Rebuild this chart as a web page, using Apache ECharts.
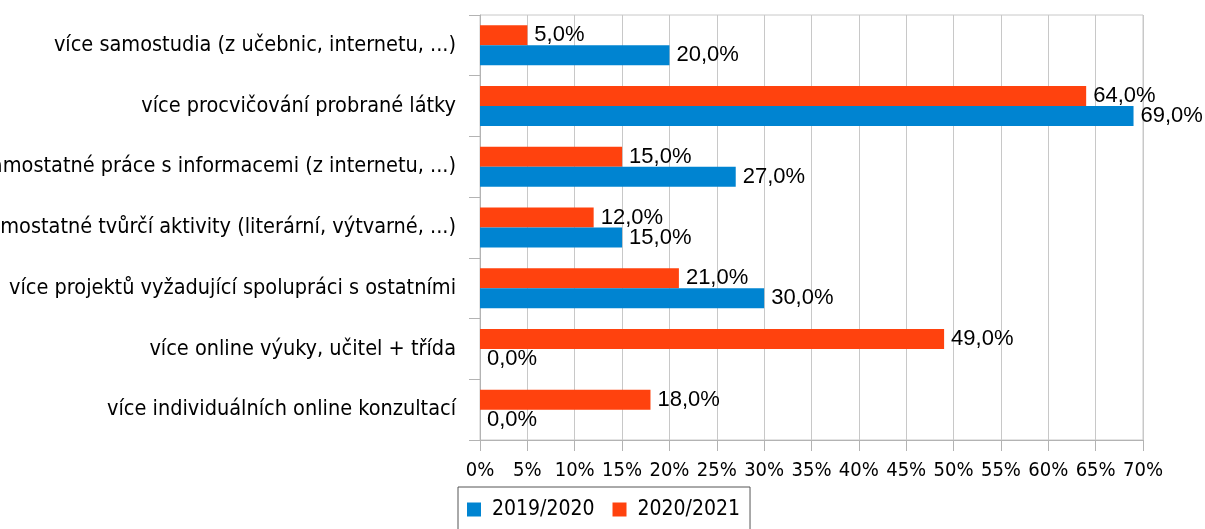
<!DOCTYPE html>
<html>
<head>
<meta charset="utf-8">
<script src="https://cdn.jsdelivr.net/npm/echarts@6/dist/echarts.min.js"></script>
<style>
  html, body { margin: 0; padding: 0; background: #fff; }
  #chart { width: 1205px; height: 529px; }
</style>
</head>
<body>
<div id="chart"></div>
<script>
const categories = [
  'více samostudia (z učebnic, internetu, ...)',
  'více procvičování probrané látky',
  'více samostatné práce s informacemi (z internetu, ...)',
  'více samostatné tvůrčí aktivity (literární, výtvarné, ...)',
  'více projektů vyžadující spolupráci s ostatními',
  'více online výuky, učitel + třída',
  'více individuálních online konzultací'
]
const values2019 = [20, 69, 27, 15, 30, 0, 0]
const values2021 = [5, 64, 15, 12, 21, 49, 18]
const seriesNames = ['2019/2020', '2020/2021']

const axisFont = '"DejaVu Sans Condensed", sans-serif'
const valueFont = '"Liberation Sans", Arial, sans-serif'

const chart = echarts.init(document.getElementById('chart'))

function pct(p) {
  return p.value.toFixed(1).replace('.', ',') + '%'
}

const valueLabel = {
  show: true,
  position: 'right',
  distance: 7,
  formatter: pct,
  color: '#000',
  fontFamily: valueFont,
  fontSize: 22
}

chart.setOption({
  animation: false,
  grid: {
    left: 480, right: 62, top: 15, bottom: 89,
    outerBoundsMode: 'none',
    containLabel: false,
    show: true, borderColor: '#c8c8c8', borderWidth: 1
  },
  legend: {
    data: seriesNames,
    left: 458, top: 487,
    orient: 'horizontal',
    itemWidth: 14, itemHeight: 14,
    itemGap: 18,
    padding: [12, 10, 20, 9],
    borderColor: '#555', borderWidth: 1,
    icon: 'rect',
    textStyle: { fontFamily: axisFont, fontSize: 21, color: '#000', padding: [0, 0, 0, 6] }
  },
  xAxis: {
    type: 'value',
    min: 0, max: 70, interval: 5,
    axisLine: { show: true, lineStyle: { color: '#b3b3b3' } },
    axisTick: { show: true, length: 11, lineStyle: { color: '#b3b3b3' } },
    splitLine: { show: true, lineStyle: { color: '#c8c8c8' } },
    axisLabel: {
      formatter: '{value}%', color: '#000', fontFamily: axisFont, fontSize: 20, margin: 21,
      hideOverlap: false, showMaxLabel: true, showMinLabel: true
    }
  },
  yAxis: {
    type: 'category',
    data: categories,
    inverse: true,
    axisLine: { show: true, lineStyle: { color: '#b3b3b3' } },
    axisTick: { show: true, length: 11, lineStyle: { color: '#b3b3b3' } },
    splitLine: { show: false },
    axisLabel: { color: '#000', fontFamily: axisFont, fontSize: 21.5, margin: 24 }
  },
  series: [
    {
      name: seriesNames[1],
      type: 'bar',
      data: values2021,
      barWidth: 20,
      barGap: 0,
      itemStyle: { color: '#ff420e' },
      label: valueLabel
    },
    {
      name: seriesNames[0],
      type: 'bar',
      data: values2019,
      barWidth: 20,
      barGap: 0,
      itemStyle: { color: '#0084d1' },
      label: valueLabel
    }
  ]
})
</script>
</body>
</html>
